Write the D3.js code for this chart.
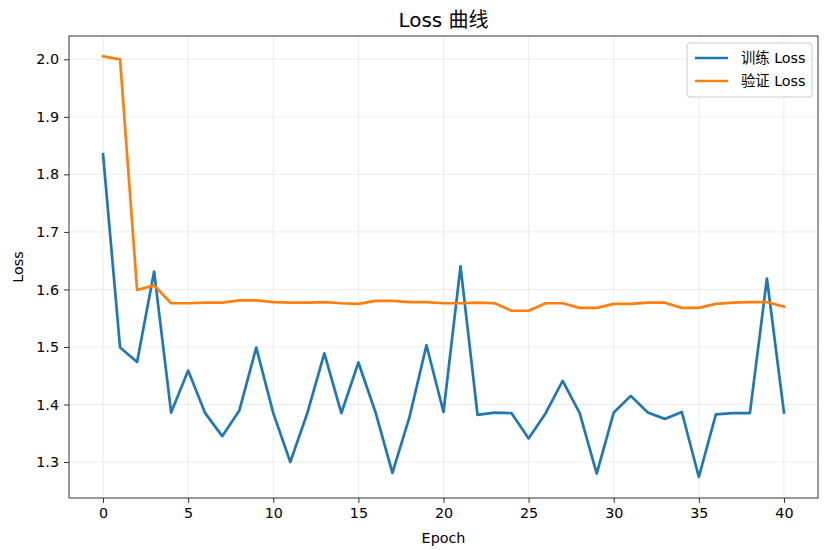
<!DOCTYPE html>
<html><head><meta charset="utf-8">
<script src="https://cdn.jsdelivr.net/npm/d3@7"></script>
<style>body{margin:0;background:#fff;} text{font-family:"DejaVu Sans","Noto Sans CJK SC",sans-serif;}</style>
</head><body>
<script>
const epochs = d3.range(0, 41);
const trainLoss = [1.835,1.499,1.474,1.631,1.386,1.459,1.385,1.345,1.389,1.499,1.385,1.300,1.385,1.489,1.385,1.473,1.387,1.281,1.378,1.503,1.387,1.640,1.382,1.386,1.385,1.341,1.385,1.441,1.385,1.280,1.386,1.415,1.386,1.375,1.387,1.274,1.383,1.385,1.385,1.619,1.386];
const valLoss = [2.005,2.000,1.599,1.607,1.576,1.576,1.577,1.577,1.581,1.581,1.578,1.577,1.577,1.578,1.576,1.575,1.580,1.580,1.578,1.578,1.576,1.576,1.577,1.576,1.563,1.563,1.576,1.576,1.568,1.568,1.575,1.575,1.577,1.577,1.568,1.568,1.575,1.577,1.578,1.578,1.570];
const xTicks = [0,5,10,15,20,25,30,35,40];
const yTicks = [1.3,1.4,1.5,1.6,1.7,1.8,1.9,2.0];
const seriesNames = ["训练 Loss","验证 Loss"];
const colors = ["#1f77b4","#ff7f0e"];
const titleText = "Loss 曲线";

const W=833,H=550;
const m={l:69,r:15,t:36,b:52};
const FS=14.3;
const svg=d3.select("body").append("svg").attr("width",W).attr("height",H);
const x=d3.scaleLinear().domain([-2,42]).range([m.l,W-m.r]);
const y=d3.scaleLinear().domain([1.2375,2.0405]).range([H-m.b,m.t]);

// grid
const g=svg.append("g");
g.selectAll(".gx").data(xTicks).enter().append("line")
 .attr("x1",d=>x(d)).attr("x2",d=>x(d)).attr("y1",m.t).attr("y2",H-m.b)
 .attr("stroke","#b0b0b0").attr("stroke-opacity",0.3).attr("stroke-width",0.8);
g.selectAll(".gy").data(yTicks).enter().append("line")
 .attr("y1",d=>y(d)).attr("y2",d=>y(d)).attr("x1",m.l).attr("x2",W-m.r)
 .attr("stroke","#b0b0b0").attr("stroke-opacity",0.3).attr("stroke-width",0.8);

// lines
const line=arr=>d3.line().x((d,i)=>x(epochs[i])).y(d=>y(d))(arr);
[trainLoss,valLoss].forEach((s,i)=>{
 svg.append("path").attr("d",line(s)).attr("fill","none").attr("stroke",colors[i])
  .attr("stroke-width",2.7).attr("stroke-linejoin","round").attr("stroke-linecap","square");
});

// axes
const xa=svg.append("g").attr("transform",`translate(0,${H-m.b})`)
 .call(d3.axisBottom(x).tickValues(xTicks).tickSize(5).tickPadding(5).tickFormat(d3.format("d")));
const ya=svg.append("g").attr("transform",`translate(${m.l},0)`)
 .call(d3.axisLeft(y).tickValues(yTicks).tickSize(5).tickPadding(5).tickFormat(d3.format(".1f")));
[xa,ya].forEach(a=>{a.select(".domain").remove();a.selectAll("text").attr("font-size",FS).attr("fill","#000");a.selectAll("line").attr("stroke","#000").attr("stroke-width",0.8);});
svg.append("rect").attr("x",m.l).attr("y",m.t).attr("width",W-m.r-m.l).attr("height",H-m.b-m.t)
 .attr("fill","none").attr("stroke","#000").attr("stroke-width",0.8);

// labels
svg.append("text").attr("x",(m.l+W-m.r)/2).attr("y",27).attr("text-anchor","middle").attr("font-size",20).text(titleText);
svg.append("text").attr("x",(m.l+W-m.r)/2).attr("y",543).attr("text-anchor","middle").attr("font-size",FS).text("Epoch");
svg.append("text").attr("transform",`translate(23,${(m.t+H-m.b)/2}) rotate(-90)`).attr("text-anchor","middle").attr("font-size",FS).text("Loss");

// legend
const lg=svg.append("g").attr("transform","translate(687,43)");
lg.append("rect").attr("width",125).attr("height",54).attr("rx",3).attr("fill","#fff").attr("fill-opacity",0.8).attr("stroke","#ccc").attr("stroke-width",1);
seriesNames.forEach((n,i)=>{
 const yy=15+i*23;
 lg.append("line").attr("x1",8).attr("x2",41).attr("y1",yy).attr("y2",yy).attr("stroke",colors[i]).attr("stroke-width",2.7);
 lg.append("text").attr("x",54).attr("y",yy+5).attr("font-size",FS).text(n);
});
</script>
</body></html>
